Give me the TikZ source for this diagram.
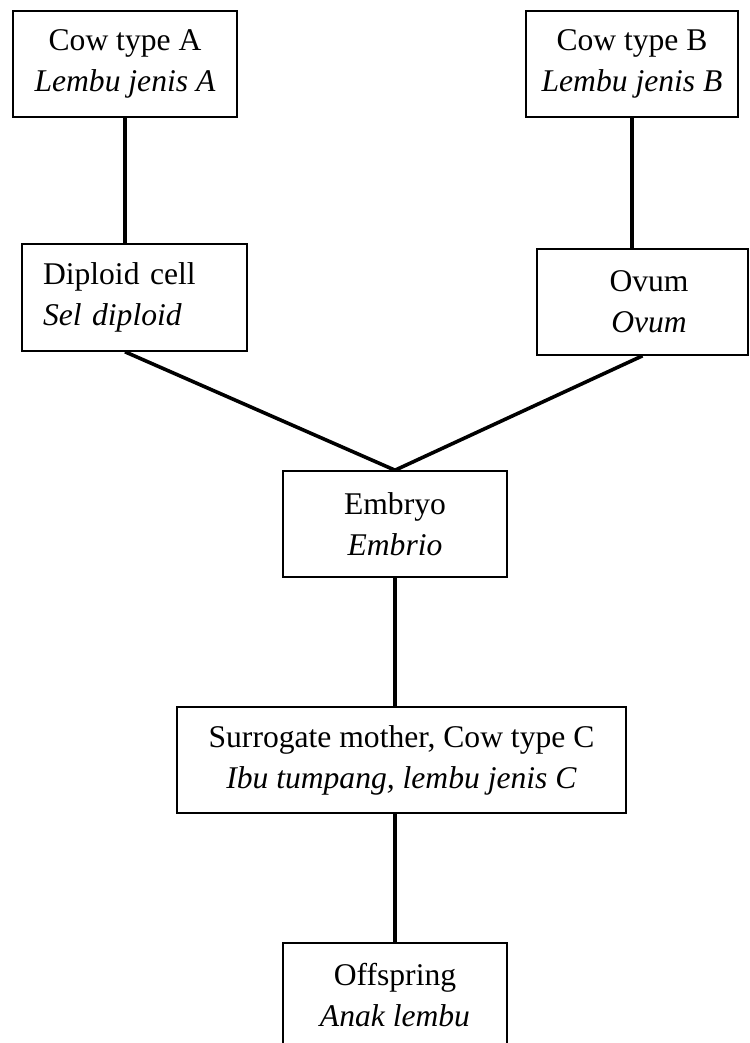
\documentclass[tikz,border=0pt]{standalone}
\usepackage{fontspec}
\setmainfont{Liberation Serif}
\begin{document}
\begin{tikzpicture}[x=1pt,y=-1pt,
  box/.style={draw=black,line width=1.6pt,rectangle,inner sep=0pt,align=center,
    font=\fontsize{31.6}{41}\selectfont},
  txt/.style={inner sep=0pt,align=center,font=\fontsize{31.6}{41}\selectfont},
  link/.style={line width=3.6pt,draw=black}]
\useasboundingbox (0,0) rectangle (749,1043);
\node[box,minimum width=224,minimum height=106] (cowa) at (125,64) {Cow type A\\\textit{Lembu jenis A}};
\node[box,minimum width=212,minimum height=106] (cowb) at (632,64) {Cow type B\\\textit{Lembu jenis B}};
\node[box,minimum width=225,minimum height=107,text width=183,align=left,inner xsep=21pt] (diploid) at (134.5,297.5) {Diploid cell\\\textit{Sel diploid}};
\node[box,minimum width=211,minimum height=106] (ovum) at (642.5,302) {};
\node[txt] (ovumtxt) at (649,302) {Ovum\\\textit{Ovum}};
\node[box,minimum width=224,minimum height=106] (embryo) at (395,524) {Embryo\\\textit{Embrio}};
\node[box,minimum width=449,minimum height=106] (surr) at (401.5,760) {Surrogate mother, Cow type C\\\textit{Ibu tumpang, lembu jenis C}};
\node[box,minimum width=224,minimum height=104] (off) at (395,995) {Offspring\\\textit{Anak lembu}};
\draw[link] (cowa.south) -- (cowa.south |- diploid.north);
\draw[link] (cowb.south) -- (cowb.south |- ovum.north);
\draw[link] (diploid.south -| cowa.south) -- (embryo.north);
\draw[link] (ovum.south) -- (embryo.north);
\draw[link] (embryo.south) -- (embryo.south |- surr.north);
\draw[link] (surr.south -| embryo.south) -- (off.north);
\end{tikzpicture}
\end{document}
